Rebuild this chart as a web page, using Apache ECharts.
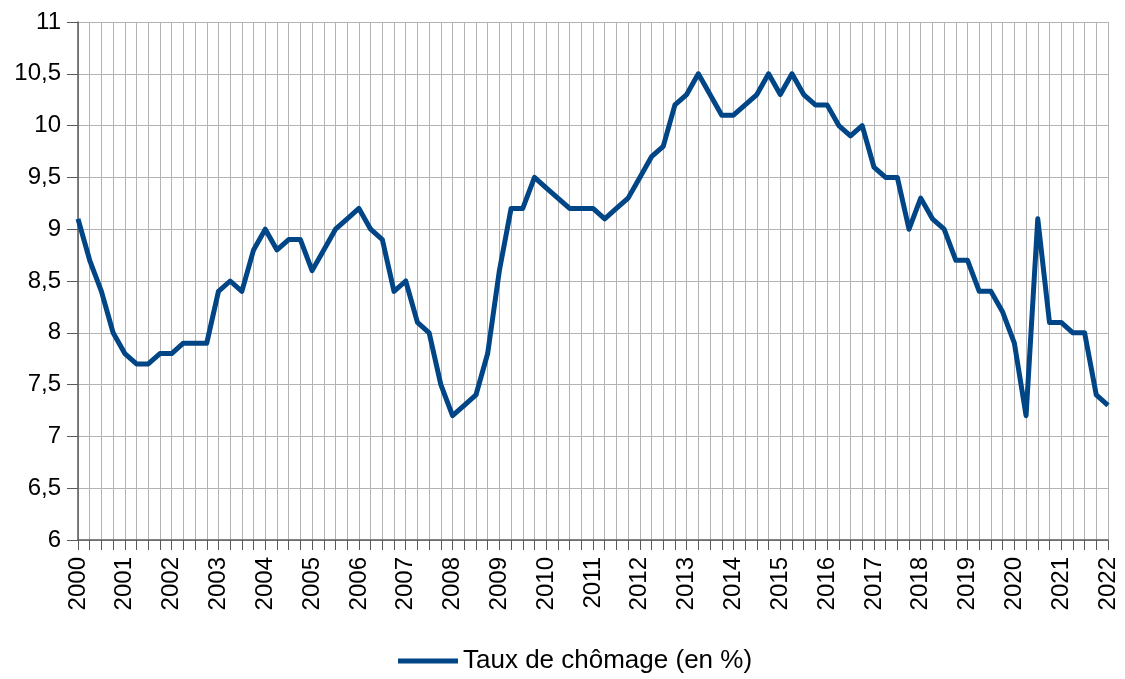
<!DOCTYPE html>
<html>
<head>
<meta charset="utf-8">
<script src="https://cdn.jsdelivr.net/npm/echarts@6/dist/echarts.min.js"></script>
<style>
html,body{margin:0;padding:0;background:#fff;}
#chart{width:1125px;height:679px;}
</style>
</head>
<body>
<div id="chart"></div>
<script>
// Quarterly categories, 2000 Q1 .. 2022 Q1
const startYear = 2000;
const endYear = 2022;
const quarterLabels = ['T1', 'T2', 'T3', 'T4'];
const seriesName = 'Taux de chômage (en %)';
// Unemployment rate (%) by quarter
const unemployment = [
  9.1, 8.7, 8.4, 8.0,   // 2000
  7.8, 7.7, 7.7, 7.8,   // 2001
  7.8, 7.9, 7.9, 7.9,   // 2002
  8.4, 8.5, 8.4, 8.8,   // 2003
  9.0, 8.8, 8.9, 8.9,   // 2004
  8.6, 8.8, 9.0, 9.1,   // 2005
  9.2, 9.0, 8.9, 8.4,   // 2006
  8.5, 8.1, 8.0, 7.5,   // 2007
  7.2, 7.3, 7.4, 7.8,   // 2008
  8.6, 9.2, 9.2, 9.5,   // 2009
  9.4, 9.3, 9.2, 9.2,   // 2010
  9.2, 9.1, 9.2, 9.3,   // 2011
  9.5, 9.7, 9.8, 10.2,  // 2012
  10.3, 10.5, 10.3, 10.1, // 2013
  10.1, 10.2, 10.3, 10.5, // 2014
  10.3, 10.5, 10.3, 10.2, // 2015
  10.2, 10.0, 9.9, 10.0,  // 2016
  9.6, 9.5, 9.5, 9.0,   // 2017
  9.3, 9.1, 9.0, 8.7,   // 2018
  8.7, 8.4, 8.4, 8.2,   // 2019
  7.9, 7.2, 9.1, 8.1,   // 2020
  8.1, 8.0, 8.0, 7.4,   // 2021
  7.3                   // 2022
];

const categories = [];
for (let y = startYear; y <= endYear; y++) {
  for (let q = 0; q < 4; q++) {
    if (y === endYear && q > 0) break;
    categories.push(y + ' ' + quarterLabels[q]);
  }
}

const FONT = '"Liberation Sans", Arial, sans-serif';
const chart = echarts.init(document.getElementById('chart'));
chart.setOption({
  animation: false,
  backgroundColor: '#ffffff',
  grid: { left: 78, right: 17, top: 22, bottom: 139, containLabel: false },
  xAxis: {
    type: 'category',
    data: categories,
    boundaryGap: false,
    axisLine: { show: true, lineStyle: { color: '#595959', width: 1.5 } },
    axisTick: { show: true, interval: 0, inside: false, length: 10, lineStyle: { color: '#595959', width: 1 } },
    axisLabel: {
      interval: 3,
      rotate: 90,
      margin: 17,
      color: '#000',
      fontSize: 24,
      fontFamily: FONT,
      formatter: function (v) { return v.split(' ')[0]; }
    },
    splitLine: { show: true, interval: 0, lineStyle: { color: '#b3b3b3', width: 1 } }
  },
  yAxis: {
    type: 'value',
    min: 6,
    max: 11,
    interval: 0.5,
    axisLine: { show: true, lineStyle: { color: '#595959', width: 1.5 } },
    axisTick: { show: true, length: 11, lineStyle: { color: '#595959', width: 1 } },
    axisLabel: {
      margin: 17,
      color: '#000',
      fontSize: 24,
      fontFamily: FONT,
      formatter: function (v) { return String(v).replace('.', ','); }
    },
    splitLine: { show: true, lineStyle: { color: '#b3b3b3', width: 1 } }
  },
  legend: {
    show: true,
    left: 398,
    top: 646,
    padding: 0,
    itemWidth: 60,
    itemHeight: 5,
    itemGap: 10,
    icon: 'rect',
    textStyle: { color: '#000', fontSize: 26, fontFamily: FONT, lineHeight: 30 },
    data: [seriesName]
  },
  series: [{
    name: seriesName,
    type: 'line',
    data: unemployment,
    showSymbol: false,
    symbol: 'none',
    lineStyle: { color: '#004586', width: 5, join: 'round' },
    itemStyle: { color: '#004586' }
  }]
});
</script>
</body>
</html>
